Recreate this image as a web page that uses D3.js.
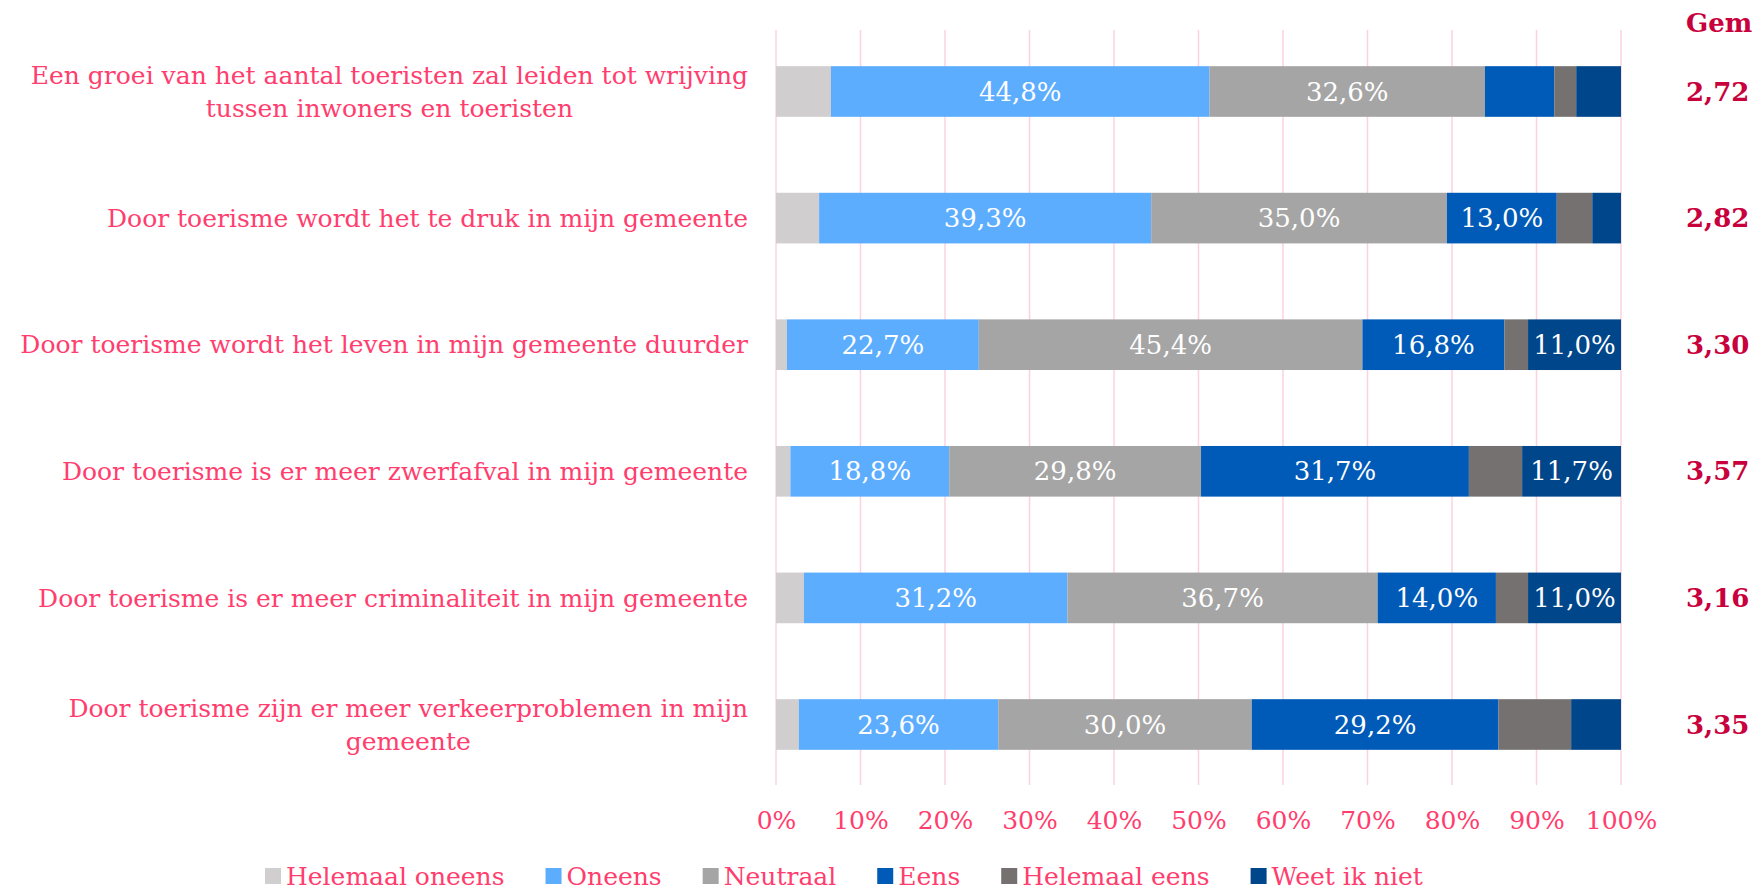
<!DOCTYPE html>
<html>
<head>
<meta charset="utf-8">
<script src="https://cdn.jsdelivr.net/npm/d3@7"></script>
<style>
  body { margin: 0; background: #fff; }
  svg text { font-family: "DejaVu Serif", "Liberation Serif", serif; }
</style>
</head>
<body>
<div id="chart"></div>
<script>
// categories (top to bottom), one line per array entry
var CATEGORIES = [
  ["Een groei van het aantal toeristen zal leiden tot wrijving", "tussen inwoners en toeristen"],
  ["Door toerisme wordt het te druk in mijn gemeente"],
  ["Door toerisme wordt het leven in mijn gemeente duurder"],
  ["Door toerisme is er meer zwerfafval in mijn gemeente"],
  ["Door toerisme is er meer criminaliteit in mijn gemeente"],
  ["Door toerisme zijn er meer verkeerproblemen in mijn", "gemeente"]
];
var SERIES = ["Helemaal oneens", "Oneens", "Neutraal", "Eens", "Helemaal eens", "Weet ik niet"];
var HELEMAAL_ONEENS = [6.5, 5.1, 1.3, 1.7, 3.3, 2.7];
var ONEENS          = [44.8, 39.3, 22.7, 18.8, 31.2, 23.6];
var NEUTRAAL        = [32.6, 35.0, 45.4, 29.8, 36.7, 30.0];
var EENS            = [8.2, 13.0, 16.8, 31.7, 14.0, 29.2];
var HELEMAAL_EENS   = [2.6, 4.2, 2.8, 6.3, 3.8, 8.6];
var WEET_IK_NIET    = [5.3, 3.4, 11.0, 11.7, 11.0, 5.9];
var GEM = ["2,72", "2,82", "3,30", "3,57", "3,16", "3,35"];
var X_TICKS = [0, 10, 20, 30, 40, 50, 60, 70, 80, 90, 100];

var COLORS = ["#d0cece", "#5dadff", "#a5a5a5", "#005bb8", "#767171", "#00468b"];
var PINK = "#ff3d6e";
var CRIMSON = "#c8003c";

var W = 1757, H = 892;
var FS = 25;

var svg = d3.select("#chart").append("svg")
    .attr("width", W)
    .attr("height", H);

var x = d3.scaleLinear().domain([0, 100]).range([776, 1621]);
var ids = CATEGORIES.map(function(d, i) { return "c" + i; });
var y = d3.scaleBand().domain(ids).range([28.2, 787.8])
    .paddingInner(0.6).paddingOuter(0.3);

// gridlines
svg.append("g").selectAll("line")
  .data(X_TICKS)
  .enter().append("line")
    .attr("x1", function(d) { return x(d); })
    .attr("x2", function(d) { return x(d); })
    .attr("y1", 30)
    .attr("y2", 785)
    .attr("stroke", "#fad3df")
    .attr("stroke-width", 1.5);

// stacked data
var table = CATEGORIES.map(function(c, i) {
  return {
    id: ids[i],
    "Helemaal oneens": HELEMAAL_ONEENS[i],
    "Oneens": ONEENS[i],
    "Neutraal": NEUTRAAL[i],
    "Eens": EENS[i],
    "Helemaal eens": HELEMAAL_EENS[i],
    "Weet ik niet": WEET_IK_NIET[i]
  };
});
var stacked = d3.stack().keys(SERIES)(table);

var layers = svg.append("g").selectAll("g")
  .data(stacked)
  .enter().append("g")
    .attr("fill", function(d, i) { return COLORS[i]; });

layers.selectAll("rect")
  .data(function(d) { return d; })
  .enter().append("rect")
    .attr("x", function(d) { return x(d[0]); })
    .attr("y", function(d) { return y(d.data.id); })
    .attr("width", function(d) { return x(d[1]) - x(d[0]); })
    .attr("height", y.bandwidth());

// value labels (only for segments of 10% or more)
layers.selectAll("text")
  .data(function(d) { return d.filter(function(p) { return p[1] - p[0] >= 10; }); })
  .enter().append("text")
    .attr("x", function(d) { return (x(d[0]) + x(d[1])) / 2; })
    .attr("y", function(d) { return y(d.data.id) + y.bandwidth() / 2; })
    .attr("dy", "0.35em")
    .attr("text-anchor", "middle")
    .attr("fill", "#fff")
    .style("font-size", "26px")
    .text(function(d) { return (d[1] - d[0]).toFixed(1).replace(".", ",") + "%"; });

// category labels: block right aligned, lines centred inside block
var labelRight = 748;
var lineH = 32.5;
CATEGORIES.forEach(function(lines, i) {
  var g = svg.append("g");
  var texts = g.selectAll("text").data(lines).enter().append("text")
      .attr("fill", PINK)
      .style("font-size", FS + "px")
      .attr("text-anchor", "middle")
      .attr("dy", "0.35em")
      .text(function(d) { return d; });
  var maxW = 0;
  texts.each(function() { maxW = Math.max(maxW, this.getComputedTextLength()); });
  var cy = y(ids[i]) + y.bandwidth() / 2;
  texts.attr("x", labelRight - maxW / 2)
       .attr("y", function(d, j) { return cy + (j - (lines.length - 1) / 2) * lineH; });
});

// Gem column
svg.append("text")
    .attr("x", 1686).attr("y", 23).attr("dy", "0.35em")
    .attr("fill", CRIMSON)
    .style("font-size", "26px")
    .style("font-weight", "bold")
    .text("Gem");
svg.append("g").selectAll("text")
  .data(GEM)
  .enter().append("text")
    .attr("x", 1686)
    .attr("y", function(d, i) { return y(ids[i]) + y.bandwidth() / 2; })
    .attr("dy", "0.35em")
    .attr("fill", CRIMSON)
    .style("font-size", "26px")
    .style("font-weight", "bold")
    .text(function(d) { return d; });

// x axis
var axis = svg.append("g")
    .attr("transform", "translate(0,790)")
    .call(d3.axisBottom(x).tickValues(X_TICKS).tickSize(0).tickPadding(21)
      .tickFormat(function(d) { return d + "%"; }));
axis.select(".domain").remove();
axis.selectAll("text")
    .attr("fill", PINK)
    .style("font-size", FS + "px")
    .style("font-family", '"DejaVu Serif", serif');

// legend
var legend = svg.append("g").attr("transform", "translate(265,876)");
var lx = 0;
SERIES.forEach(function(s, i) {
  var item = legend.append("g").attr("transform", "translate(" + lx + ",0)");
  item.append("rect")
      .attr("x", 0).attr("y", -8)
      .attr("width", 16).attr("height", 16)
      .attr("fill", COLORS[i]);
  var t = item.append("text")
      .attr("x", 21).attr("dy", "0.35em")
      .attr("fill", PINK)
      .style("font-size", FS + "px")
      .text(s);
  lx += 21 + t.node().getComputedTextLength() + 41;
});
</script>
</body>
</html>
